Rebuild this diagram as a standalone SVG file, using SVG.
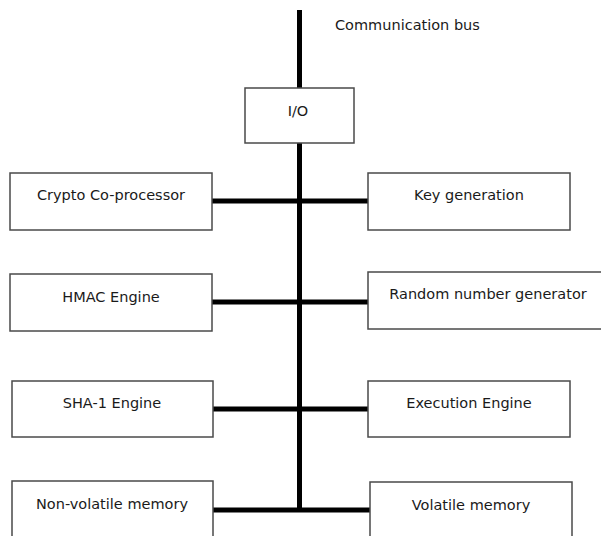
<svg xmlns="http://www.w3.org/2000/svg" width="601" height="536" viewBox="0 0 601 536">
<style>
.box{fill:#fff;stroke:#4a4a4a;stroke-width:1.5}
.lbl{font-family:"DejaVu Sans",Verdana,sans-serif;font-size:14.5px;fill:#1a1a1a;text-anchor:middle}
.wire{stroke:#000;stroke-width:5;fill:none}
</style>
<rect width="601" height="536" fill="#fff"/>
<g id="connectors">
<line class="wire" x1="299.5" y1="10" x2="299.5" y2="510"/>
<line class="wire" x1="212" y1="201" x2="368" y2="201"/>
<line class="wire" x1="212" y1="302" x2="368" y2="302"/>
<line class="wire" x1="213" y1="409" x2="368" y2="409"/>
<line class="wire" x1="213" y1="510" x2="370" y2="510"/>
</g>
<text class="lbl" x="335" y="30" style="text-anchor:start">Communication bus</text>
<g id="io"><rect class="box" x="245" y="88" width="109" height="55"/><text class="lbl" x="298" y="116">I/O</text></g>
<g id="crypto"><rect class="box" x="10" y="173" width="202" height="57"/><text class="lbl" x="111" y="200">Crypto Co-processor</text></g>
<g id="keygen"><rect class="box" x="368" y="173" width="202" height="57"/><text class="lbl" x="469" y="200">Key generation</text></g>
<g id="hmac"><rect class="box" x="10" y="274" width="202" height="57"/><text class="lbl" x="111" y="302">HMAC Engine</text></g>
<g id="rng"><rect class="box" x="368" y="272" width="240" height="57"/><text class="lbl" x="488" y="299">Random number generator</text></g>
<g id="sha1"><rect class="box" x="12" y="381" width="201" height="56"/><text class="lbl" x="112" y="408">SHA-1 Engine</text></g>
<g id="exec"><rect class="box" x="368" y="381" width="202" height="56"/><text class="lbl" x="469" y="408">Execution Engine</text></g>
<g id="nvm"><rect class="box" x="12" y="481" width="201" height="57"/><text class="lbl" x="112" y="509">Non-volatile memory</text></g>
<g id="vm"><rect class="box" x="370" y="482" width="202" height="57"/><text class="lbl" x="471" y="510">Volatile memory</text></g>
</svg>
